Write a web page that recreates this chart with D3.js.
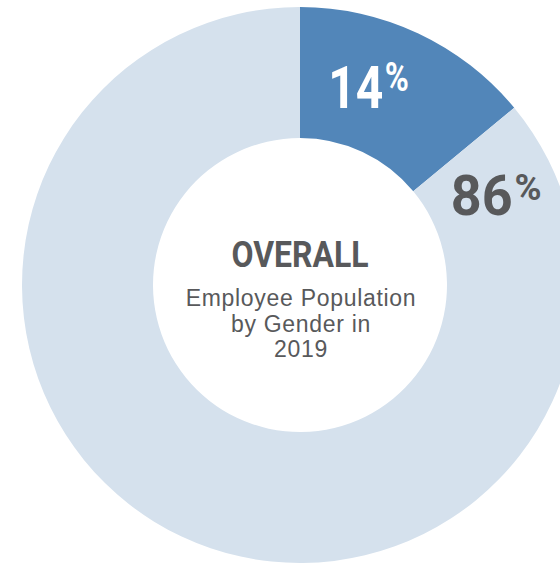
<!DOCTYPE html>
<html>
<head>
<meta charset="utf-8">
<script src="https://cdn.jsdelivr.net/npm/d3@7"></script>
<style>
  body { margin: 0; background: #fff; }
  .big { font-family: Roboto, "DejaVu Sans", sans-serif; font-weight: bold; }
  .sub { font-family: "Liberation Sans", Arial, sans-serif; fill: #58595b; letter-spacing: 0.7px; }
</style>
</head>
<body>
<div id="container"></div>
<script>
const categories = ['Women', 'Men'];
const values = [14, 86];
const title = 'OVERALL';
const subtitle = ['Employee Population', 'by Gender in', '2019'];

const width = 560, height = 564;
const cx = 300, cy = 285;
const outerR = 278, innerR = 147;

const color = d3.scaleOrdinal().domain(categories).range(['#5286b9', '#d5e1ed']);
const labelColor = d3.scaleOrdinal().domain(categories).range(['#ffffff', '#58595b']);
const labelSize = d3.scaleOrdinal().domain(categories).range([60, 55]);
const labelSqueeze = d3.scaleOrdinal().domain(categories).range([0.8, 0.98]);
const labelRadius = d3.scaleOrdinal().domain(categories).range([209, 216]);

const svg = d3.select('#container').append('svg')
  .attr('width', width).attr('height', height);

const g = svg.append('g').attr('transform', `translate(${cx},${cy})`);

const pie = d3.pie().sort(null).value(d => d.v);
const data = pie(categories.map((c, i) => ({ c, v: values[i] })));

const arc = d3.arc().innerRadius(innerR).outerRadius(outerR);

g.selectAll('path')
  .data(data)
  .enter()
  .append('path')
  .attr('d', arc)
  .attr('fill', d => color(d.data.c));

// small slice label sits a bit before its middle, big slice label just past its start
function labelAngle(d, i) {
  if (i === 0) return (d.startAngle + d.endAngle) / 2 * 0.76;
  return d.startAngle + 0.26;
}

const labelG = g.selectAll('g.pct')
  .data(data)
  .enter()
  .append('g')
  .attr('class', 'pct')
  .attr('transform', (d, i) => {
    const a = labelAngle(d, i), r = labelRadius(d.data.c);
    return `translate(${r * Math.sin(a)},${-r * Math.cos(a) + 20}) scale(${labelSqueeze(d.data.c)},1)`;
  });

const labels = labelG.append('text')
  .attr('class', 'big')
  .attr('text-anchor', 'middle')
  .attr('fill', d => labelColor(d.data.c));

labels.append('tspan')
  .attr('font-size', d => labelSize(d.data.c))
  .text(d => d.data.v);
labels.append('tspan')
  .attr('font-size', d => labelSize(d.data.c) * 0.68)
  .attr('dx', 2)
  .attr('dy', d => -labelSize(d.data.c) * 0.27)
  .text('%');

g.append('text')
  .attr('class', 'big')
  .attr('text-anchor', 'middle')
  .attr('x', 0)
  .attr('y', -18)
  .attr('font-size', 36)
  .attr('textLength', 137)
  .attr('lengthAdjust', 'spacingAndGlyphs')
  .attr('fill', '#58595b')
  .text(title);

g.selectAll('text.sub')
  .data(subtitle)
  .enter()
  .append('text')
  .attr('class', 'sub')
  .attr('text-anchor', 'middle')
  .attr('x', 1)
  .attr('y', (d, i) => 21 + i * 25.5)
  .attr('font-size', 23)
  .text(d => d);
</script>
</body>
</html>
